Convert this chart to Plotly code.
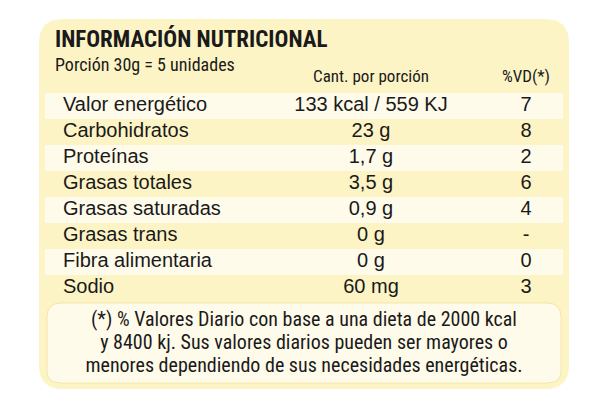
import plotly.graph_objects as go

nutrients = ['Valor energético', 'Carbohidratos', 'Proteínas', 'Grasas totales',
             'Grasas saturadas', 'Grasas trans', 'Fibra alimentaria', 'Sodio']
amounts = ['133 kcal / 559 KJ', '23 g', '1,7 g', '3,5 g', '0,9 g', '0 g', '0 g', '60 mg']
vd = ['7', '8', '2', '6', '4', '-', '0', '3']
footnote = ['(*) % Valores Diario con base a una dieta de 2000 kcal',
            'y 8400 kj. Sus valores diarios pueden ser mayores o',
            'menores dependiendo de sus necesidades energéticas.']

YELLOW = '#FDF4C6'
LIGHT = '#FFFBEA'
NARROW = 'Liberation Sans Narrow, Roboto Condensed, Arial Narrow, Liberation Sans'
REG = 'Liberation Sans, Arial, sans-serif'

row_y = [105 + 26 * i for i in range(len(nutrients))]

fig = go.Figure()

shapes = [dict(type='path', xref='x', yref='y', layer='below',
               path='M 62 18 L 544 18 Q 568 18 568 42 L 568 364 Q 568 388 544 388 '
                    'L 62 388 Q 38 388 38 364 L 38 42 Q 38 18 62 18 Z',
               fillcolor=YELLOW, line=dict(width=0))]
for i, y in enumerate(row_y):
    if i % 2 == 0:
        shapes.append(dict(type='rect', xref='x', yref='y', layer='below',
                           x0=44, x1=562, y0=y - 13, y1=y + 13,
                           fillcolor=LIGHT, line=dict(width=0)))
shapes.append(dict(type='path', xref='x', yref='y', layer='below',
                   path='M 60 302 L 546 302 Q 560 302 560 316 L 560 370 Q 560 382 546 382 '
                        'L 60 382 Q 46 382 46 370 L 46 316 Q 46 302 60 302 Z',
                   fillcolor=LIGHT, line=dict(color='#F2E6A8', width=1)))

fig.add_trace(go.Scatter(x=[62] * len(nutrients), y=row_y, mode='text', text=nutrients,
                         textposition='middle right', hoverinfo='skip',
                         textfont=dict(family=REG, size=20, color='#1a1a1a')))
fig.add_trace(go.Scatter(x=[370] * len(amounts), y=row_y, mode='text', text=amounts,
                         textposition='middle center', hoverinfo='skip',
                         textfont=dict(family=REG, size=20, color='#1a1a1a')))
fig.add_trace(go.Scatter(x=[525] * len(vd), y=row_y, mode='text', text=vd,
                         textposition='middle center', hoverinfo='skip',
                         textfont=dict(family=REG, size=20, color='#1a1a1a')))
fig.add_trace(go.Scatter(x=[303] * len(footnote), y=[320, 343, 366], mode='text', text=footnote,
                         textposition='middle center', hoverinfo='skip',
                         textfont=dict(family=NARROW, size=20, color='#1a1a1a')))
fig.add_trace(go.Scatter(x=[54, 54, 370, 525], y=[40, 65, 77, 77], mode='text',
                         text=['<b>INFORMACIÓN NUTRICIONAL</b>', 'Porción 30g = 5 unidades',
                               'Cant. por porción', '%VD(*)'],
                         textposition=['middle right', 'middle right', 'middle center', 'middle center'],
                         hoverinfo='skip',
                         textfont=dict(family=NARROW, size=[23, 18, 17, 17], color='#1a1a1a')))

# the page is offset by ~7px, so shift the ranges to compensate
fig.update_layout(width=590, height=402, margin=dict(l=0, r=0, t=0, b=0),
                  paper_bgcolor='white', plot_bgcolor='white', showlegend=False,
                  shapes=shapes,
                  xaxis=dict(range=[7, 597], visible=False, fixedrange=True),
                  yaxis=dict(range=[409, 7], visible=False, fixedrange=True))

fig.write_html('out.html')
